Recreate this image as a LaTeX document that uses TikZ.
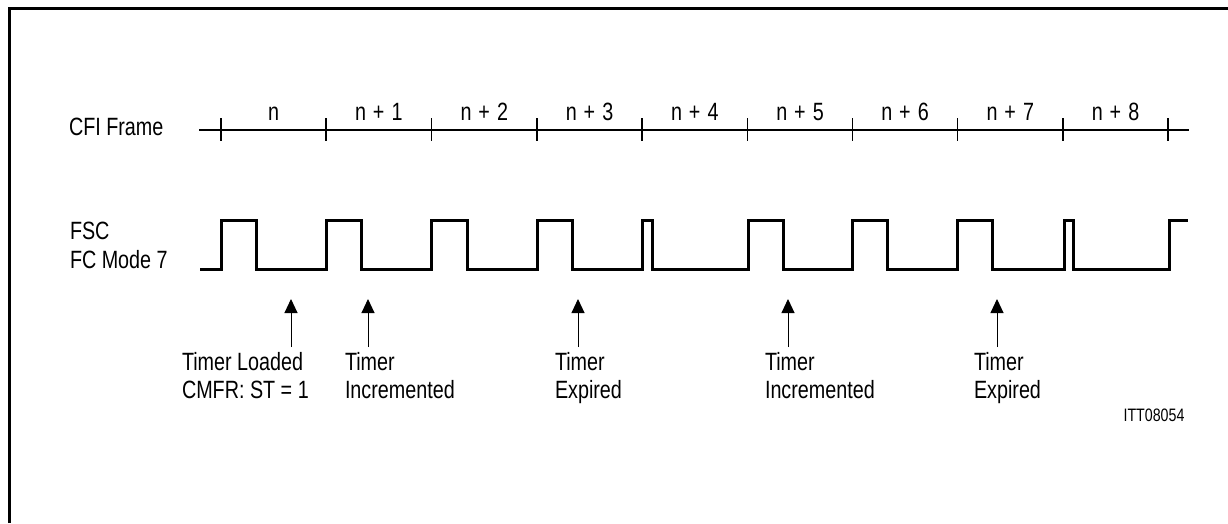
\documentclass[tikz,border=0pt]{standalone}
\usepackage{fontspec}
\setmainfont{Liberation Sans}[FakeStretch=0.79]
\usetikzlibrary{arrows.meta}
\newcommand{\fsp}{\hspace{7pt}}
\begin{document}
\begin{tikzpicture}[x=1pt,y=-1pt,
  lbl/.style={font=\fontsize{25}{28}\selectfont, inner sep=0pt, outer sep=0pt},
  evlbl/.style={lbl, align=left, anchor=north west},
  sig/.style={line width=3pt, line join=miter, line cap=butt},
  axis/.style={line width=1.1pt},
  evt/.style={line width=1pt, -{Triangle[width=13pt,length=14pt]}},
  small/.style={font=\fontsize{18}{21}\selectfont, inner sep=0pt}]
\useasboundingbox (0,0) rectangle (1228,523);
% frame (only top and left visible)
\draw[line width=3pt] (9,523) -- (9,8) -- (1228,8);

% CFI frame axis
\node[lbl, anchor=base west] (cfi) at (69,135) {CFI Frame};
\coordinate (axs) at (199,130);
\coordinate (axe) at (1189,130);
\draw[axis] (axs) -- (axe);
\foreach \x [count=\i from 0] in {221,326,431.5,537,642,747.5,852.5,957.5,1063,1168}{
  \coordinate (t\i) at (\x,130);
  \draw[axis] (\x,118) -- (\x,141);
}
\node[lbl, anchor=base] (f0) at (273.5,120) {n};
\foreach \x/\t [count=\i] in {378.75/1,484.25/2,589.5/3,694.75/4,800/5,905/6,1010.25/7,1115.5/8}{
  \node[lbl, anchor=base] (f\i) at (\x,120) {n\fsp+\fsp\t};
}

% FSC signal
\node[lbl, anchor=base west] (fsc) at (70,239) {FSC};
\node[lbl, anchor=base west] (fcm) at (70,268) {FC Mode 7};
\draw[sig] (200,269) -- (221,269) -- (221,220) -- (256,220) -- (256,269)
  -- (326,269) -- (326,220) -- (361,220) -- (361,269)
  -- (431,269) -- (431,220) -- (467,220) -- (467,269)
  -- (537,269) -- (537,220) -- (572,220) -- (572,269)
  -- (642,269) -- (642,220) -- (652,220) -- (652,269)
  -- (748,269) -- (748,220) -- (783,220) -- (783,269)
  -- (852,269) -- (852,220) -- (887,220) -- (887,269)
  -- (957,269) -- (957,220) -- (992,220) -- (992,269)
  -- (1064,269) -- (1064,220) -- (1073,220) -- (1073,269)
  -- (1169,269) -- (1169,220) -- (1188,220);

% events
\node[evlbl] (e1) at (182,352) {Timer Loaded\\CMFR: ST = 1};
\node[evlbl] (e2) at (345,352) {Timer\\Incremented};
\node[evlbl] (e3) at (555,352) {Timer\\Expired};
\node[evlbl] (e4) at (765,352) {Timer\\Incremented};
\node[evlbl] (e5) at (974,352) {Timer\\Expired};
\foreach \x [count=\i] in {291,368,578,788,997}{
  \coordinate (ab\i) at (\x,347);
  \coordinate (at\i) at (\x,299);
  \draw[evt] (ab\i) -- (at\i);
}

\node[small] (id) at (1154,415) {ITT08054};
\end{tikzpicture}
\end{document}
